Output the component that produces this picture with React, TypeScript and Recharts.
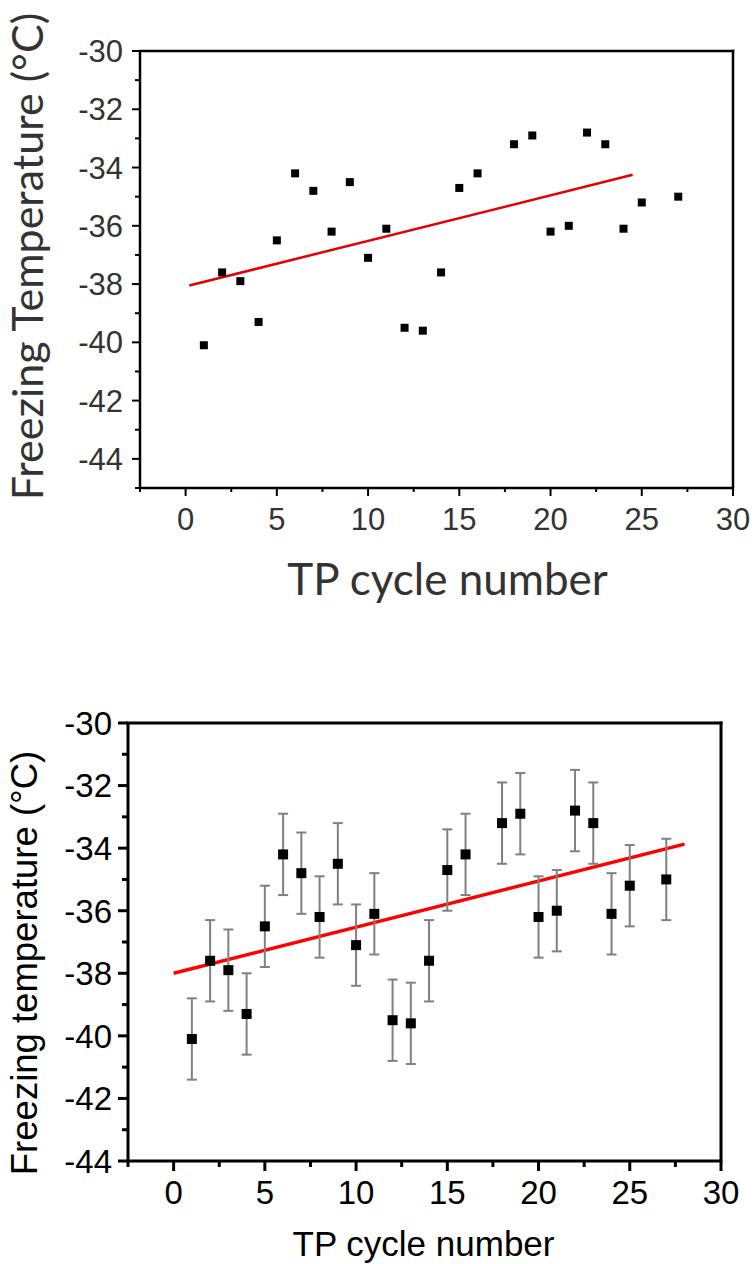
import React from 'react';
import { ComposedChart, Scatter, XAxis, YAxis, ReferenceLine, ErrorBar } from 'recharts';

// ---- data ----
const cycles = [1, 2, 3, 4, 5, 6, 7, 8, 9, 10, 11, 12, 13, 14, 15, 16, 18, 19, 20, 21, 22, 23, 24, 25, 27];
const temps = [-40.1, -37.6, -37.9, -39.3, -36.5, -34.2, -34.8, -36.2, -34.5, -37.1, -36.1, -39.5, -39.6, -37.6, -34.7, -34.2, -33.2, -32.9, -36.2, -36.0, -32.8, -33.2, -36.1, -35.2, -35.0];
const errors = [1.3, 1.3, 1.3, 1.3, 1.3, 1.3, 1.3, 1.3, 1.3, 1.3, 1.3, 1.3, 1.3, 1.3, 1.3, 1.3, 1.3, 1.3, 1.3, 1.3, 1.3, 1.3, 1.3, 1.3, 1.3];
const fitTopX = [0.2, 24.5];
const fitTopY = [-38.05, -34.25];
const fitBottomX = [0, 28];
const fitBottomY = [-38.0, -33.87];
const xTicks = [-2.5, 0, 2.5, 5, 7.5, 10, 12.5, 15, 17.5, 20, 22.5, 25, 27.5, 30];
const yTicksTop = [-45, -44, -43, -42, -41, -40, -39, -38, -37, -36, -35, -34, -33, -32, -31, -30];
const yTicksBottom = [-44, -43, -42, -41, -40, -39, -38, -37, -36, -35, -34, -33, -32, -31, -30];
const xDomain = [-2.5, 30];
const yDomainTop = [-45, -30];
const yDomainBottom = [-44, -30];
const topTitleX = 'TP cycle number';
const topTitleY = 'Freezing Temperature (°C)';
const bottomTitleX = 'TP cycle number';
const bottomTitleY = 'Freezing temperature (°C)';

const points = cycles.map((c, i) => ({ x: c, y: temps[i], err: errors[i] }));

const ARIAL = '"Liberation Sans", Arial, sans-serif';
const LATO = 'Lato, "Open Sans", sans-serif';

const isMajorX = (v: number) => Math.abs(v % 5) < 1e-9;
const isMajorY = (v: number) => Math.abs(v % 2) < 1e-9;

const makeBottomTick = (majorLen: number, minorLen: number, gap: number, fs: number, color: string, family: string, sw: number) =>
  (props: any) => {
    const { x, y, payload } = props;
    const v = payload.value;
    const major = isMajorX(v);
    return (
      <g>
        <line x1={x} x2={x} y1={y} y2={y + (major ? majorLen : minorLen)} stroke="#000" strokeWidth={sw} />
        {major && (
          <text x={x} y={y + gap + fs * 0.716} textAnchor="middle" fontSize={fs} fill={color} fontFamily={family}>
            {String(v)}
          </text>
        )}
      </g>
    );
  };

const makeLeftTick = (majorLen: number, minorLen: number, gap: number, fs: number, color: string, family: string, sw: number) =>
  (props: any) => {
    const { x, y, payload } = props;
    const v = payload.value;
    const major = isMajorY(v);
    return (
      <g>
        <line x1={x} x2={x - (major ? majorLen : minorLen)} y1={y} y2={y} stroke="#000" strokeWidth={sw} />
        {major && (
          <text x={x - gap} y={y + fs * 0.358} textAnchor="end" fontSize={fs} fill={color} fontFamily={family}>
            {String(v)}
          </text>
        )}
      </g>
    );
  };

const makeTopInnerTick = (len: number, sw: number) => (props: any) => {
  const { x, y } = props;
  return <line x1={x} x2={x} y1={y} y2={y + len} stroke="#000" strokeWidth={sw} />;
};

const makeRightInnerTick = (len: number, sw: number) => (props: any) => {
  const { x, y } = props;
  return <line x1={x} x2={x - len} y1={y} y2={y} stroke="#000" strokeWidth={sw} />;
};

const square = (size: number) => (props: any) => (
  <rect x={props.cx - size / 2} y={props.cy - size / 2} width={size} height={size} fill="#000" />
);

const nothing = () => <g />;

const xTitle = (text: string, dx: number, dy: number, fs: number, family: string, color: string) => (props: any) => {
  const vb = props.viewBox;
  return (
    <text x={vb.x + vb.width / 2 + dx} y={vb.y + dy} textAnchor="middle" fontSize={fs} fontFamily={family} fill={color}>
      {text}
    </text>
  );
};

const yTitle = (text: string, bx: number, dy: number, fs: number, family: string, color: string) => (props: any) => {
  const vb = props.viewBox;
  const cy = vb.y + vb.height / 2 + dy;
  return (
    <text x={bx} y={cy} transform={`rotate(-90, ${bx}, ${cy})`} textAnchor="middle" fontSize={fs} fontFamily={family} fill={color}>
      {text}
    </text>
  );
};

const TopChart = () => (
  <ComposedChart width={755} height={640} data={points} margin={{ top: 51, right: 22, left: 0, bottom: 32 }}>
    <XAxis
      xAxisId="main"
      type="number"
      dataKey="x"
      domain={xDomain}
      allowDataOverflow
      ticks={xTicks}
      interval={0}
      height={120}
      tickSize={0}
      tickMargin={0}
      axisLine={{ stroke: '#000', strokeWidth: 2.5 }}
      tickLine={false}
      tick={makeBottomTick(8, 4, 20, 31, '#333', ARIAL, 2)}
      label={{ content: xTitle(topTitleX, 11, 107, 44, LATO, '#333') }}
    />
    <YAxis
      yAxisId="main"
      type="number"
      dataKey="y"
      domain={yDomainTop}
      allowDataOverflow
      ticks={yTicksTop}
      interval={0}
      width={140}
      tickSize={0}
      tickMargin={0}
      axisLine={{ stroke: '#000', strokeWidth: 2.5 }}
      tickLine={false}
      tick={makeLeftTick(8, 5, 17, 31, '#333', ARIAL, 2)}
      label={{ content: yTitle(topTitleY, 43, -13, 43, LATO, '#333') }}
    />
    <ReferenceLine xAxisId="main" yAxisId="main" y={yDomainTop[1]} stroke="#000" strokeWidth={2.5} strokeLinecap="square" />
    <ReferenceLine xAxisId="main" yAxisId="main" x={xDomain[1]} stroke="#000" strokeWidth={2.5} strokeLinecap="square" />
    <ReferenceLine
      xAxisId="main"
      yAxisId="main"
      segment={[{ x: fitTopX[0], y: fitTopY[0] }, { x: fitTopX[1], y: fitTopY[1] }]}
      stroke="#e30000"
      strokeWidth={2.5}
    />
    <Scatter xAxisId="main" yAxisId="main" dataKey="y" fill="#000" shape={square(8)} isAnimationActive={false} />
  </ComposedChart>
);

const BottomChart = () => (
  <ComposedChart width={755} height={604} data={points} margin={{ top: 63, right: 34, left: 0, bottom: 23 }}>
    <XAxis
      xAxisId="main"
      type="number"
      dataKey="x"
      domain={xDomain}
      allowDataOverflow
      ticks={xTicks}
      interval={0}
      height={80}
      tickSize={0}
      tickMargin={0}
      axisLine={{ stroke: '#000', strokeWidth: 3 }}
      tickLine={false}
      tick={makeBottomTick(10, 6, 19, 33, '#000', ARIAL, 3)}
      label={{ content: xTitle(bottomTitleX, -1, 95, 35, ARIAL, '#000') }}
    />
    <XAxis
      xAxisId="frame"
      orientation="top"
      type="number"
      dataKey="x"
      domain={xDomain}
      allowDataOverflow
      ticks={xTicks}
      interval={0}
      height={0}
      tickSize={0}
      tickMargin={0}
      axisLine={false}
      tickLine={false}
      tick={makeTopInnerTick(3, 2)}
    />
    <YAxis
      yAxisId="main"
      type="number"
      dataKey="y"
      domain={yDomainBottom}
      allowDataOverflow
      ticks={yTicksBottom}
      interval={0}
      width={128}
      tickSize={0}
      tickMargin={0}
      axisLine={{ stroke: '#000', strokeWidth: 3 }}
      tickLine={false}
      tick={makeLeftTick(10, 6, 16, 33, '#000', ARIAL, 3)}
      label={{ content: yTitle(bottomTitleY, 37, 21, 36.5, ARIAL, '#000') }}
    />
    <YAxis
      yAxisId="frame"
      orientation="right"
      type="number"
      dataKey="y"
      domain={yDomainBottom}
      allowDataOverflow
      ticks={yTicksBottom}
      interval={0}
      width={0}
      tickSize={0}
      tickMargin={0}
      axisLine={false}
      tickLine={false}
      tick={makeRightInnerTick(3, 2)}
    />
    <ReferenceLine xAxisId="main" yAxisId="main" y={yDomainBottom[1]} stroke="#000" strokeWidth={3} strokeLinecap="square" />
    <ReferenceLine xAxisId="main" yAxisId="main" x={xDomain[1]} stroke="#000" strokeWidth={3} strokeLinecap="square" />
    <ReferenceLine
      xAxisId="main"
      yAxisId="main"
      segment={[{ x: fitBottomX[0], y: fitBottomY[0] }, { x: fitBottomX[1], y: fitBottomY[1] }]}
      stroke="#ff0000"
      strokeWidth={3.5}
    />
    <Scatter xAxisId="frame" yAxisId="frame" dataKey="y" shape={nothing} isAnimationActive={false} legendType="none" />
    <Scatter xAxisId="main" yAxisId="main" dataKey="y" fill="#000" shape={square(10)} isAnimationActive={false}>
      <ErrorBar dataKey="err" direction="y" width={5} stroke="#808080" strokeWidth={2} />
    </Scatter>
  </ComposedChart>
);

export default function App() {
  return (
    <div style={{ position: 'absolute', left: 0, top: 0, width: 755, height: 1264, background: '#fff', overflow: 'hidden' }}>
      <div style={{ position: 'absolute', left: 0, top: 0 }}>
        <TopChart />
      </div>
      <div style={{ position: 'absolute', left: 0, top: 660 }}>
        <BottomChart />
      </div>
    </div>
  );
}
